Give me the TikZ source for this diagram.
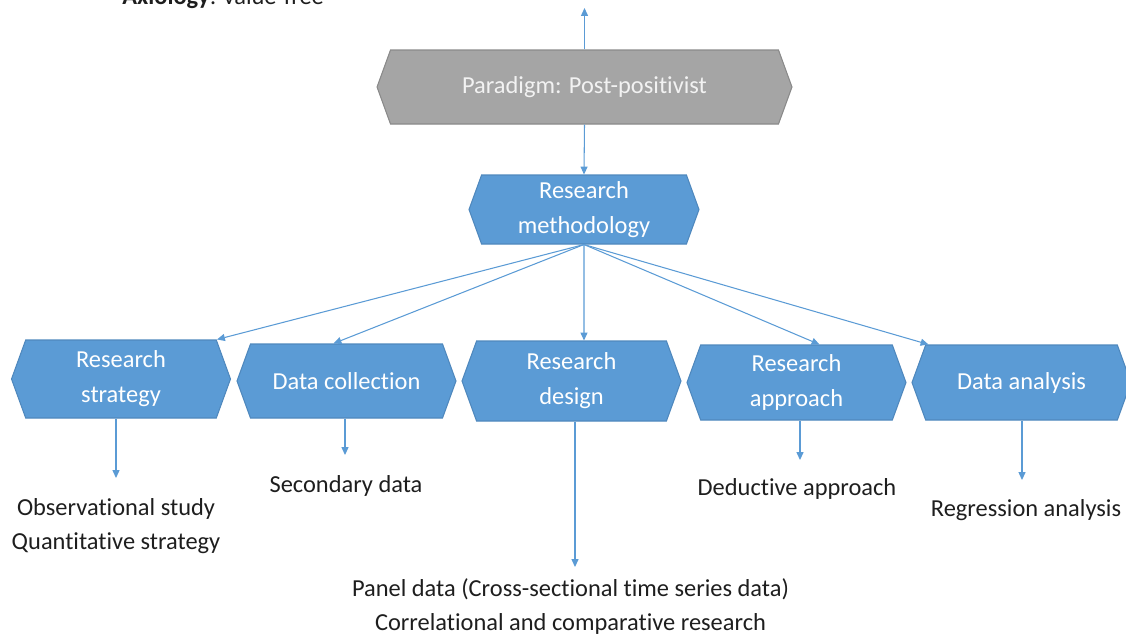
\documentclass[tikz,border=0pt]{standalone}
\usepackage{fontspec}
\setmainfont[Ligatures=NoCommon]{Carlito}
\usetikzlibrary{shapes.symbols,arrows.meta,calc}

\definecolor{boxblue}{HTML}{5B9BD5}
\definecolor{boxedge}{HTML}{4F88BD}
\definecolor{boxgrey}{HTML}{A5A5A5}
\definecolor{greyedge}{HTML}{8A8A8A}
\definecolor{inkgrey}{HTML}{1E1E1E}

\tikzset{
  hexbox/.style={shape=signal, signal to=west and east, signal from=nowhere,
    signal pointer angle=140, fill=boxblue, draw=boxedge, line width=0.6pt,
    text=white, align=center, minimum width=4.38cm, minimum height=1.52cm,
    inner sep=0pt, font=\fontsize{13.9}{20}\selectfont},
  greybox/.style={hexbox, fill=boxgrey, draw=greyedge, text=white!95!black},
  outcome/.style={align=center, text=inkgrey, font=\fontsize{13.9}{19}\selectfont},
  link/.style={draw=boxblue, line width=0.6pt, -{Triangle[length=4.5pt,width=4pt]}}
}

\begin{document}
\begin{tikzpicture}[x=0.02cm,y=-0.02cm]
\useasboundingbox (0,0) rectangle (1126,637);

\coordinate (upTip) at (585,8);
\coordinate (obsTip) at (116,478);
\coordinate (secTip) at (345,455);
\coordinate (panelTip) at (575,567);
\coordinate (dedTip) at (800,460);
\coordinate (regTip) at (1022,480);

% top text, cut by the page edge
\node[anchor=base west, inner sep=0pt, text=inkgrey, font=\fontsize{13.9}{19}\selectfont] (axio) at (122,4) {\textbf{Axiology}: value-free};

\node[greybox, minimum width=8.3cm, minimum height=1.48cm] (para) at (584.5,87) {Paradigm: Post-positivist};
\node[hexbox, minimum width=4.6cm, minimum height=1.38cm] (meth) at (584,209.5) {Research\\methodology};

\node[hexbox, minimum height=1.56cm] (strat) at (121,379) {Research\\strategy};
\node[hexbox, minimum height=1.48cm] (coll) at (346.5,381) {Data collection};
\node[hexbox, minimum height=1.6cm] (des) at (571.5,381) {Research\\design};
\node[hexbox, minimum height=1.5cm] (appr) at (796.5,382.5) {Research\\approach};
\node[hexbox, minimum height=1.5cm] (ana) at (1021.5,382.5) {Data analysis};

\node[outcome] (obs) at (116,526) {Observational study\\Quantitative strategy};
\node[outcome] (sec) at (346,486) {Secondary data};
\node[outcome] (panel) at (570.5,606.5) {Panel data (Cross-sectional time series data)\\Correlational and comparative research};
\node[outcome] (ded) at (797,489) {Deductive approach};
\node[outcome] (reg) at (1026,510) {Regression analysis};

\draw[link] (para.north) -- (para.north |- upTip);
\draw[link] (para.south) -- (meth.north);

\draw[link] (meth.south) -- ($(strat.north)+(96,0)$);
\draw[link] (meth.south) -- ($(coll.north)+(-13,0)$);
\draw[link] (meth.south) -- ($(des.north)+(12.5,0)$);
\draw[link] (meth.south) -- ($(appr.north)+(23,0)$);
\draw[link] (meth.south) -- ($(ana.north)+(-93,0)$);

\draw[link] (strat.south -| obsTip) -- (obsTip);
\draw[link] (coll.south -| secTip) -- (secTip);
\draw[link] (des.south -| panelTip) -- (panelTip);
\draw[link] (appr.south -| dedTip) -- (dedTip);
\draw[link] (ana.south -| regTip) -- (regTip);
\end{tikzpicture}
\end{document}
